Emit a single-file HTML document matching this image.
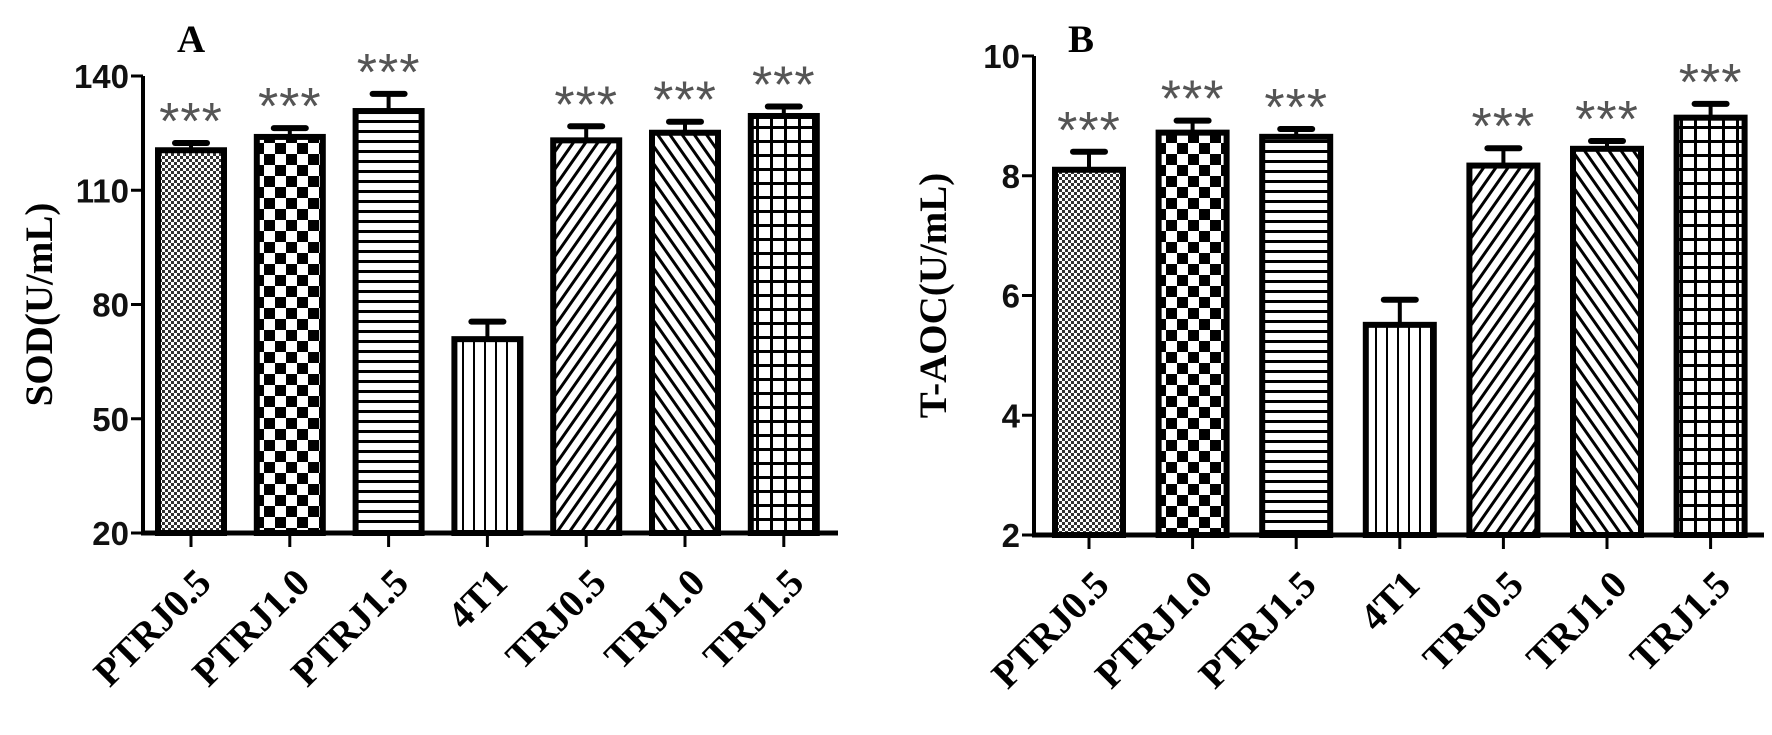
<!DOCTYPE html>
<html><head><meta charset="utf-8"><style>
html,body{margin:0;padding:0;background:#fff;width:1772px;height:735px;overflow:hidden}
svg text{font-weight:bold}
.tick{font-family:"Liberation Sans",Arial,sans-serif;font-size:33px;fill:#111}
.lab{font-family:"Liberation Serif","Times New Roman",serif;font-size:39px;fill:#000}
.star{font-family:"Liberation Sans",Arial,sans-serif;font-size:52px;fill:#555;font-weight:normal}
</style></head><body>
<svg id="chart" width="1772" height="735" viewBox="0 0 1772 735" xmlns="http://www.w3.org/2000/svg">
<defs>
<pattern id="p0" width="6" height="6" patternUnits="userSpaceOnUse"><rect width="6" height="6" fill="#fff"/><rect width="3" height="3" fill="#333"/><rect x="3" y="3" width="3" height="3" fill="#333"/></pattern>
<pattern id="p1" width="22" height="22" patternUnits="userSpaceOnUse"><rect width="22" height="22" fill="#fff"/><rect width="11" height="11" fill="#000"/><rect x="11" y="11" width="11" height="11" fill="#000"/></pattern>
<pattern id="p2" width="10" height="10" patternUnits="userSpaceOnUse"><rect width="10" height="10" fill="#fff"/><rect y="0" width="10" height="3" fill="#000"/></pattern>
<pattern id="p3" width="11" height="10" patternUnits="userSpaceOnUse"><rect width="11" height="10" fill="#fff"/><rect x="0" width="2" height="10" fill="#000"/></pattern>
<pattern id="p4" width="10" height="10" patternUnits="userSpaceOnUse" patternTransform="rotate(35)"><rect width="10" height="10" fill="#fff"/><rect width="3" height="10" fill="#000"/></pattern>
<pattern id="p5" width="10" height="10" patternUnits="userSpaceOnUse" patternTransform="rotate(-35)"><rect width="10" height="10" fill="#fff"/><rect width="3" height="10" fill="#000"/></pattern>
<pattern id="p6" width="14" height="14" patternUnits="userSpaceOnUse"><rect width="14" height="14" fill="#fff"/><rect width="3" height="14" fill="#000"/><rect width="14" height="3" fill="#000"/></pattern>
</defs>
</svg>
<script>
const categories = ["PTRJ0.5","PTRJ1.0","PTRJ1.5","4T1","TRJ0.5","TRJ1.0","TRJ1.5"];
const sodValues = [120.5,124,130.8,70.9,123.1,125.1,129.5];
const sodErr = [1.9,2.3,4.5,4.6,3.7,2.9,2.5];
const sodTicks = [20,50,80,110,140];
const aocValues = [8.1,8.72,8.65,5.51,8.17,8.45,8.97];
const aocErr = [0.3,0.2,0.13,0.42,0.29,0.13,0.23];
const aocTicks = [2,4,6,8,10];
const sigLabels = ["***","***","***","","***","***","***"];

const svg = document.getElementById('chart');
const NS = 'http://www.w3.org/2000/svg';
function mk(tag, attrs, parent){const e=document.createElementNS(NS,tag);for(const k in attrs)e.setAttribute(k,attrs[k]);(parent||svg).appendChild(e);return e;}

function panel(cfg){
  const g = mk('g',{});
  
  
  const y = v => cfg.y0 - (v - cfg.vmin) * (cfg.y0 - cfg.y1) / (cfg.vmax - cfg.vmin);
  const x = i => cfg.c0 + cfg.step * i;
  cfg.values.forEach((v,i)=>{
    const bw = cfg.bw, cx = x(i), top = y(v), et = y(v + cfg.err[i]);
    const eb = mk('line',{x1:cx,x2:cx,y1:top,y2:et,stroke:'#000','stroke-width':4},g);
    
    
    const cap = mk('line',{x1:cx-16,x2:cx+16,y1:et,y2:et,stroke:'#000','stroke-width':6,'stroke-linecap':'round'},g);
    
    
    const r = mk('rect',{x:cx-bw/2,y:top,width:bw,height:cfg.y0-top,fill:'url(#p'+i+')',stroke:'#000','stroke-width':6},g);
    
    
    if(sigLabels[i]){
      const s = mk('text',{x:cx,y:et-4,'text-anchor':'middle','class':'star','letter-spacing':'1'},g);
      s.textContent = sigLabels[i];
      
      
    }
    const t = mk('line',{x1:cx,x2:cx,y1:cfg.y0,y2:cfg.y0+14,stroke:'#000','stroke-width':3},g);
    
    
    const lx = cx+22, ly = cfg.y0+52;
    const l = mk('text',{x:lx,y:ly,'text-anchor':'end','class':'lab',transform:'rotate(-45 '+lx+' '+ly+')'},g);
    l.textContent = categories[i];
    
    
  });
  const ya = mk('line',{x1:cfg.ax,x2:cfg.ax,y1:y(cfg.vmax),y2:cfg.y0+2,stroke:'#000','stroke-width':4},g);
  
  
  const xa = mk('line',{x1:cfg.ax-2,x2:cfg.xend,y1:cfg.y0,y2:cfg.y0,stroke:'#000','stroke-width':5},g);
  
  
  cfg.ticks.forEach(tv=>{
    const tl = mk('line',{x1:cfg.ax-12,x2:cfg.ax,y1:y(tv),y2:y(tv),stroke:'#000','stroke-width':3},g);
    
    
    const tt = mk('text',{x:cfg.ax-14,y:y(tv)+12,'text-anchor':'end','class':'tick'},g);
    tt.textContent = tv;
    
    
  });
  const my = (y(cfg.vmax)+cfg.y0)/2;
  const yt = mk('text',{x:cfg.titleX,y:my,'text-anchor':'middle','class':'lab','font-size':cfg.titleSize,transform:'rotate(-90 '+cfg.titleX+' '+my+')'},g);
  yt.textContent = cfg.title;
  
  
  const pl = mk('text',{x:cfg.letterX,y:52,'class':'lab','font-size':34},g);
  pl.textContent = cfg.letter;
  
  
}
panel({name:'panel-a-sod',values:sodValues,err:sodErr,ticks:sodTicks,vmin:20,vmax:140,y0:533,y1:76,ax:143,c0:191,step:98.8,bw:66,xend:838,title:'SOD(U/mL)',titleX:52,titleSize:42,letter:'A',letterX:177});
panel({name:'panel-b-taoc',values:aocValues,err:aocErr,ticks:aocTicks,vmin:2,vmax:10,y0:535,y1:56,ax:1034,c0:1089,step:103.6,bw:68,xend:1764,title:'T-AOC(U/mL)',titleX:946,titleSize:43,letter:'B',letterX:1068});
</script>
</body></html>
